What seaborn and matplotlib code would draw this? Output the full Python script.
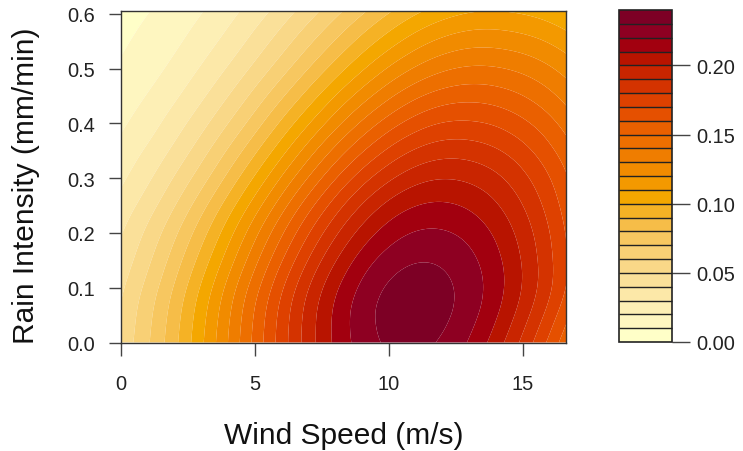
import numpy as np
import pandas as pd
import matplotlib
matplotlib.use("Agg")
import matplotlib.pyplot as plt
import matplotlib.tri as mtri
import seaborn as sns

# ---- data ----
wind_speed = [0, 1, 2, 3, 4, 5, 6, 7, 8, 9, 10, 11, 12, 13, 14, 15, 16, 16.6]
rain_intensity = [0.0, 0.05, 0.10, 0.15, 0.20, 0.25, 0.30, 0.35, 0.40, 0.45, 0.50, 0.55, 0.605]

z_r000 = [0.0526, 0.0685, 0.0870, 0.1078, 0.1299, 0.1527, 0.1748, 0.1950, 0.2119, 0.2244, 0.2315, 0.2328, 0.2284, 0.2189, 0.2048, 0.1872, 0.1671, 0.1543]
z_r005 = [0.0509, 0.0667, 0.0850, 0.1057, 0.1279, 0.1509, 0.1734, 0.1942, 0.2119, 0.2253, 0.2333, 0.2354, 0.2321, 0.2237, 0.2109, 0.1944, 0.1753, 0.1629]
z_r010 = [0.0479, 0.0630, 0.0808, 0.1010, 0.1229, 0.1457, 0.1683, 0.1895, 0.2078, 0.2220, 0.2312, 0.2345, 0.2323, 0.2253, 0.2140, 0.1990, 0.1813, 0.1697]
z_r015 = [0.0436, 0.0577, 0.0746, 0.0937, 0.1147, 0.1369, 0.1592, 0.1804, 0.1992, 0.2143, 0.2245, 0.2292, 0.2283, 0.2226, 0.2126, 0.1988, 0.1820, 0.1709]
z_r020 = [0.0391, 0.0521, 0.0677, 0.0856, 0.1055, 0.1268, 0.1484, 0.1692, 0.1880, 0.2036, 0.2147, 0.2206, 0.2210, 0.2167, 0.2080, 0.1955, 0.1799, 0.1695]
z_r025 = [0.0336, 0.0452, 0.0594, 0.0760, 0.0946, 0.1147, 0.1355, 0.1559, 0.1747, 0.1907, 0.2027, 0.2097, 0.2114, 0.2083, 0.2010, 0.1899, 0.1757, 0.1660]
z_r030 = [0.0279, 0.0381, 0.0507, 0.0655, 0.0826, 0.1013, 0.1210, 0.1406, 0.1592, 0.1754, 0.1880, 0.1963, 0.1995, 0.1978, 0.1921, 0.1826, 0.1701, 0.1613]
z_r035 = [0.0228, 0.0316, 0.0424, 0.0556, 0.0710, 0.0880, 0.1063, 0.1249, 0.1428, 0.1588, 0.1719, 0.1811, 0.1856, 0.1853, 0.1811, 0.1733, 0.1623, 0.1546]
z_r040 = [0.0183, 0.0256, 0.0350, 0.0464, 0.0599, 0.0752, 0.0920, 0.1092, 0.1262, 0.1418, 0.1550, 0.1648, 0.1704, 0.1713, 0.1685, 0.1622, 0.1530, 0.1462]
z_r045 = [0.0144, 0.0205, 0.0283, 0.0381, 0.0498, 0.0634, 0.0784, 0.0941, 0.1100, 0.1249, 0.1379, 0.1480, 0.1543, 0.1565, 0.1549, 0.1501, 0.1424, 0.1366]
z_r050 = [0.0112, 0.0161, 0.0226, 0.0309, 0.0409, 0.0526, 0.0658, 0.0800, 0.0945, 0.1085, 0.1211, 0.1312, 0.1381, 0.1413, 0.1408, 0.1373, 0.1311, 0.1262]
z_r055 = [0.0086, 0.0127, 0.0180, 0.0249, 0.0333, 0.0435, 0.0550, 0.0676, 0.0806, 0.0935, 0.1052, 0.1151, 0.1222, 0.1260, 0.1262, 0.1237, 0.1188, 0.1147]
z_r060 = [0.0065, 0.0096, 0.0139, 0.0194, 0.0264, 0.0348, 0.0445, 0.0553, 0.0667, 0.0781, 0.0888, 0.0979, 0.1048, 0.1090, 0.1100, 0.1083, 0.1046, 0.1013]

level_edges = [0.00, 0.01, 0.02, 0.03, 0.04, 0.05, 0.06, 0.07, 0.08, 0.09, 0.10, 0.11,
               0.12, 0.13, 0.14, 0.15, 0.16, 0.17, 0.18, 0.19, 0.20, 0.21, 0.22, 0.23, 0.24]
colorbar_ticks = [0.00, 0.05, 0.10, 0.15, 0.20]
x_ticks = [0, 5, 10, 15]
y_ticks = [0.0, 0.1, 0.2, 0.3, 0.4, 0.5, 0.6]

band_colors = ["#FFFFC8", "#FEF6C0", "#FDEFB5", "#FCE8A8", "#FAE099", "#F9D888",
               "#F8D075", "#F7C760", "#F6BD48", "#F5B225", "#F4A700", "#F39900",
               "#F18B00", "#EF7D00", "#ED6F00", "#EA6000", "#E55000", "#DE4100",
               "#D43300", "#C92500", "#B81400", "#A2000F", "#8E0022", "#7D0025"]

# ---- long-form table ----
rows = [z_r000, z_r005, z_r010, z_r015, z_r020, z_r025, z_r030, z_r035,
        z_r040, z_r045, z_r050, z_r055, z_r060]
records = []
for r, zrow in zip(rain_intensity, rows):
    for w, z in zip(wind_speed, zrow):
        records.append({"wind": w, "rain": r, "density": z})
df = pd.DataFrame(records)

sns.set_style("white")
plt.rcParams["font.family"] = ["Liberation Sans", "DejaVu Sans"]

fig = plt.figure(figsize=(7.43, 4.52), dpi=100)
ax = fig.add_axes([120.5 / 743, 1 - 343.5 / 452, 445.5 / 743, 331.5 / 452])
cax = fig.add_axes([618.5 / 743, 1 - 343.0 / 452, 53.0 / 743, 332.0 / 452])

# triangulate in normalised space, smooth with the library's cubic refiner
xs = df["wind"].max()
ys = df["rain"].max()
tri_n = mtri.Triangulation(df["wind"] / xs, df["rain"] / ys)
interp = mtri.CubicTriInterpolator(tri_n, df["density"].values, kind="min_E")
refiner = mtri.UniformTriRefiner(tri_n)
tri_r, z_r = refiner.refine_field(df["density"].values, triinterpolator=interp, subdiv=4)
tri_d = mtri.Triangulation(tri_r.x * xs, tri_r.y * ys, tri_r.triangles)

cs = ax.tricontourf(tri_d, z_r, levels=level_edges, colors=band_colors, antialiased=True)

ax.set_xlim(0, 16.6)
ax.set_ylim(0, 0.605)
ax.set_xticks(x_ticks)
ax.set_xticklabels([str(t) for t in x_ticks])
ax.set_yticks(y_ticks)
ax.set_yticklabels([f"{t:.1f}" for t in y_ticks])
ax.tick_params(axis="both", direction="out", length=9, width=1, color="#444444",
               labelsize=14.4, labelcolor="#222222")
ax.tick_params(axis="x", pad=14)
ax.tick_params(axis="y", pad=9)
ax.xaxis.set_ticks_position("bottom")
ax.yaxis.set_ticks_position("left")
for s in ax.spines.values():
    s.set_visible(True)
    s.set_color("#333333")
    s.set_linewidth(1.0)
ax.set_xlabel("Wind Speed (m/s)", fontsize=21.5, labelpad=19.5, color="#111111")
ax.set_ylabel("Rain Intensity (mm/min)", fontsize=21.5, color="#111111")
ax.yaxis.set_label_coords(-0.18, 0.475)

cbar = fig.colorbar(cs, cax=cax, ticks=colorbar_ticks, drawedges=True)
cbar.ax.set_yticklabels([f"{t:.2f}" for t in colorbar_ticks])
cbar.outline.set_edgecolor("#222222")
cbar.outline.set_linewidth(1.2)
cbar.dividers.set_color("#222222")
cbar.dividers.set_linewidth(1.0)
cbar.ax.tick_params(direction="out", length=13, width=1, color="#444444",
                    labelsize=14.4, labelcolor="#222222", pad=5)

fig.savefig("out.png", dpi=100)
